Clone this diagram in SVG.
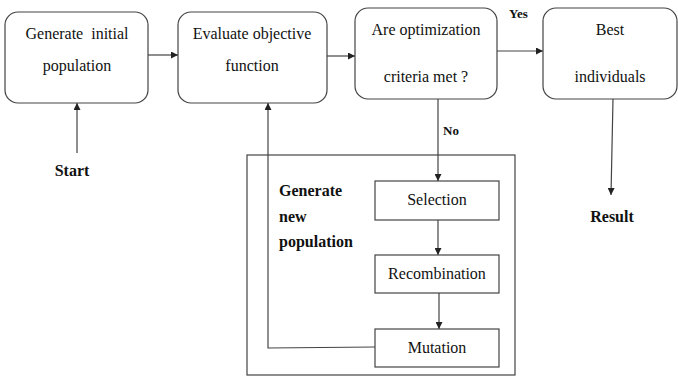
<svg xmlns="http://www.w3.org/2000/svg" width="678" height="377" viewBox="0 0 678 377">
<style>
.n{fill:#fff;stroke:#444;stroke-width:1.2}
.lbl{font-family:"Liberation Serif","Times New Roman","DejaVu Serif",serif;font-size:16px;font-weight:normal;fill:#111;text-anchor:middle;white-space:pre}
.b{font-family:"Liberation Serif","Times New Roman",serif;font-size:16px;font-weight:bold;fill:#111;white-space:pre}
.c{fill:none;stroke:#444;stroke-width:1.2}
</style>
<defs>
<marker id="ah" viewBox="0 0 10 10" refX="10" refY="5" markerWidth="7" markerHeight="7" markerUnits="userSpaceOnUse" orient="auto">
<path d="M0,0 L10,5 L0,10 z" fill="#222"/>
</marker>
</defs>
<rect x="0" y="0" width="678" height="377" fill="#fff"/>
<g id="frame"><rect x="247" y="155" width="268" height="220" class="n" fill="none"/>
<text class="b" x="279" y="196">Generate</text>
<text class="b" x="279" y="222">new</text>
<text class="b" x="279" y="247">population</text></g>
<g id="connectors">
<line x1="148" y1="55" x2="178" y2="55" class="c" marker-end="url(#ah)"/>
<line x1="327" y1="56" x2="355" y2="56" class="c" marker-end="url(#ah)"/>
<line x1="497" y1="51" x2="543" y2="51" class="c" marker-end="url(#ah)"/>
<line x1="77" y1="153" x2="77" y2="103" class="c" marker-end="url(#ah)"/>
<line x1="438" y1="99" x2="438" y2="181" class="c" marker-end="url(#ah)"/>
<line x1="438" y1="220" x2="438" y2="255" class="c" marker-end="url(#ah)"/>
<line x1="439" y1="293" x2="439" y2="329" class="c" marker-end="url(#ah)"/>
<line x1="613" y1="99" x2="611" y2="195" class="c" marker-end="url(#ah)"/>
<polyline points="375,347 268,348 268,103" class="c" marker-end="url(#ah)"/>
<text class="b" x="509" y="18" style="font-size:13px">Yes</text>
<text class="b" x="443" y="135" style="font-size:13px">No</text>
</g>
<g id="n1"><rect x="5" y="12" width="143" height="91" rx="13" class="n"/>
<text class="lbl" x="77" y="39">Generate  initial</text>
<text class="lbl" x="77" y="71">population</text></g>
<g id="n2"><rect x="178" y="12" width="149" height="91" rx="13" class="n"/>
<text class="lbl" x="252" y="39">Evaluate objective</text>
<text class="lbl" x="252" y="71">function</text></g>
<g id="n3"><rect x="355" y="8" width="142" height="91" rx="13" class="n"/>
<text class="lbl" x="426" y="35">Are optimization</text>
<text class="lbl" x="426" y="82">criteria met ?</text></g>
<g id="n4"><rect x="543" y="8" width="134" height="91" rx="13" class="n"/>
<text class="lbl" x="610" y="35">Best</text>
<text class="lbl" x="610" y="82">individuals</text></g>
<g id="start"><text class="b" x="72" y="176" text-anchor="middle">Start</text></g>
<g id="result"><text class="b" x="612" y="222" text-anchor="middle">Result</text></g>
<g id="sel"><rect x="375" y="181" width="124" height="39" class="n"/>
<text class="lbl" x="437" y="205">Selection</text></g>
<g id="rec"><rect x="375" y="255" width="124" height="38" class="n"/>
<text class="lbl" x="437" y="279">Recombination</text></g>
<g id="mut"><rect x="375" y="329" width="124" height="38" class="n"/>
<text class="lbl" x="437" y="353">Mutation</text></g>
</svg>
